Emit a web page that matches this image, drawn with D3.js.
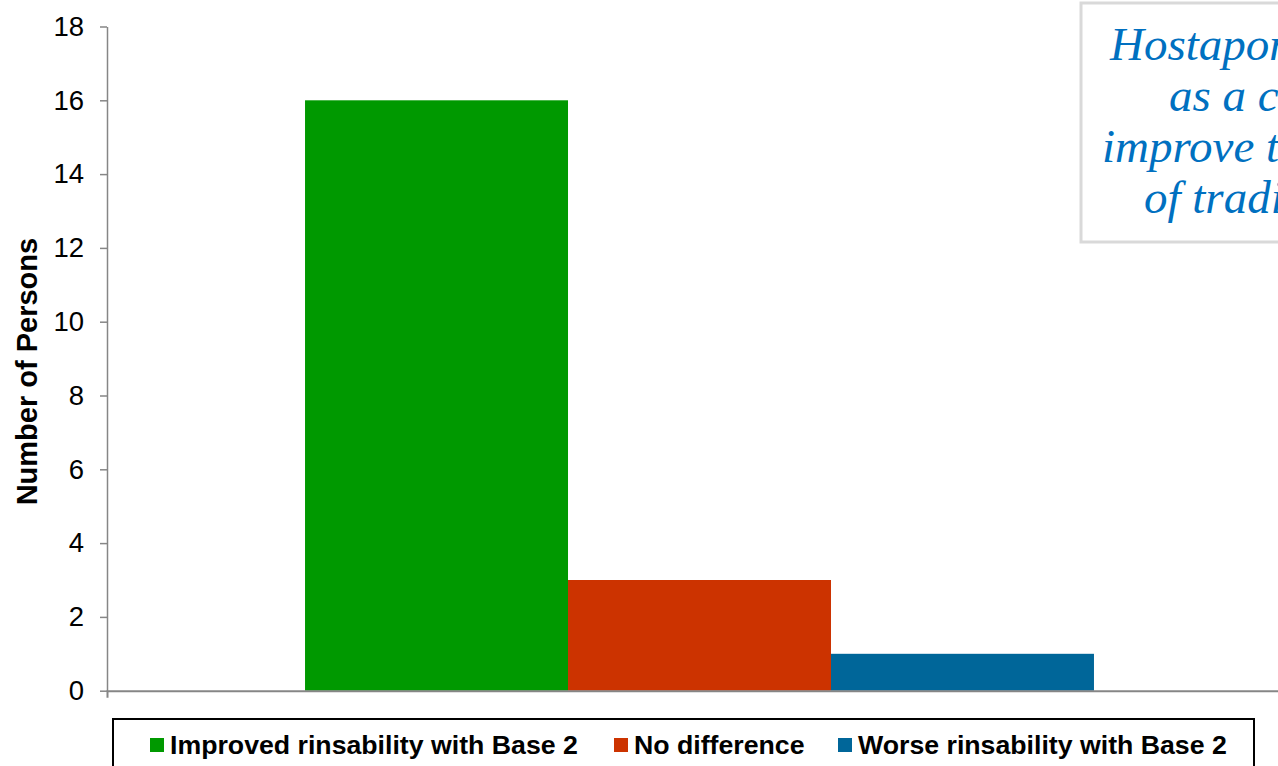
<!DOCTYPE html>
<html>
<head>
<meta charset="utf-8">
<script src="https://cdn.jsdelivr.net/npm/d3@7"></script>
<style>
  html, body { margin: 0; padding: 0; background: #fff; overflow: hidden; }
  svg { display: block; }
</style>
</head>
<body>
<svg id="chart" width="1278" height="766"></svg>
<script>
// Survey result: how rinsability changed with Base 2
const categories = ["Rinsability"];
const seriesNames = ["Improved rinsability with Base 2", "No difference", "Worse rinsability with Base 2"];
const seriesValues = [16, 3, 1];
const seriesColors = ["#009900", "#CC3300", "#006699"];
const yTicks = [0, 2, 4, 6, 8, 10, 12, 14, 16, 18];
const yTitle = "Number of Persons";
const noteLines = ["Hostapon SCI 85 C", "as a co-surfactant to", "improve the rinsability", "of traditional soaps"];

const svg = d3.select("#chart");
const plot = { left: 107, right: 1292, top: 26.5, bottom: 690.7 };
const axisColor = "#868686";
const sans = "Arial, 'Liberation Sans', sans-serif";

const y = d3.scaleLinear().domain([0, 18]).range([plot.bottom, plot.top]);
const x0 = d3.scaleBand().domain(categories).range([plot.left, plot.right])
  .paddingInner(0).paddingOuter(0.251);
const x1 = d3.scaleBand().domain(seriesNames).range([0, x0.bandwidth()]).padding(0);

// Bars
const group = svg.append("g");
categories.forEach(cat => {
  group.selectAll("rect.bar")
    .data(seriesNames.map((s, i) => ({ s, v: seriesValues[i], c: seriesColors[i] })))
    .join("rect")
    .attr("class", "bar")
    .attr("x", d => x0(cat) + x1(d.s))
    .attr("y", d => y(d.v))
    .attr("width", x1.bandwidth())
    .attr("height", d => y(0) - y(d.v))
    .attr("fill", d => d.c);
});

// Y axis
const yAxis = d3.axisLeft(y).tickValues(yTicks).tickSize(7).tickPadding(16).tickSizeOuter(0);
const gy = svg.append("g").attr("transform", `translate(${plot.left},0)`).call(yAxis);
gy.select(".domain").attr("stroke", axisColor).attr("stroke-width", 1.5);
gy.selectAll(".tick line").attr("stroke", axisColor).attr("stroke-width", 1.5);
gy.selectAll(".tick text")
  .attr("fill", "#000")
  .style("font-family", sans)
  .style("font-size", "27.5px");

// X axis (category axis, no labels)
const gx = svg.append("g").attr("transform", `translate(0,${plot.bottom})`)
  .call(d3.axisBottom(x0).tickValues([]).tickSizeOuter(7));
gx.select(".domain").attr("stroke", axisColor).attr("stroke-width", 2);

// Y axis title
svg.append("text")
  .attr("transform", `translate(37,${(plot.top + plot.bottom) / 2 + 13}) rotate(-90)`)
  .attr("text-anchor", "middle")
  .style("font-family", sans)
  .style("font-size", "29px")
  .style("font-weight", "bold")
  .text(yTitle);

// Legend
const legend = svg.append("g");
legend.append("rect")
  .attr("x", 113).attr("y", 719).attr("width", 1141).attr("height", 70)
  .attr("fill", "#fff").attr("stroke", "#000").attr("stroke-width", 2);
const legendX = [150, 614, 838];
seriesNames.forEach((s, i) => {
  const g = legend.append("g").attr("transform", `translate(${legendX[i]},738)`);
  g.append("rect").attr("width", 14).attr("height", 14).attr("fill", seriesColors[i]);
  g.append("text")
    .attr("x", 20).attr("y", 16)
    .style("font-family", sans)
    .style("font-size", "26.7px")
    .style("font-weight", "bold")
    .text(s);
});

// Note box
const note = svg.append("g");
note.append("rect")
  .attr("x", 1081).attr("y", 3).attr("width", 440).attr("height", 239)
  .attr("fill", "#fff").attr("stroke", "#D9D9D9").attr("stroke-width", 3);
const noteStarts = [1110, 1169, 1102, 1144];
note.selectAll("text")
  .data(noteLines)
  .join("text")
  .attr("x", (d, i) => noteStarts[i])
  .attr("y", (d, i) => 60 + i * 51)
  .attr("fill", "#0070C0")
  .style("font-family", "'Liberation Serif', 'Times New Roman', serif")
  .style("font-style", "italic")
  .style("font-size", "47px")
  .text(d => d);
</script>
</body>
</html>
